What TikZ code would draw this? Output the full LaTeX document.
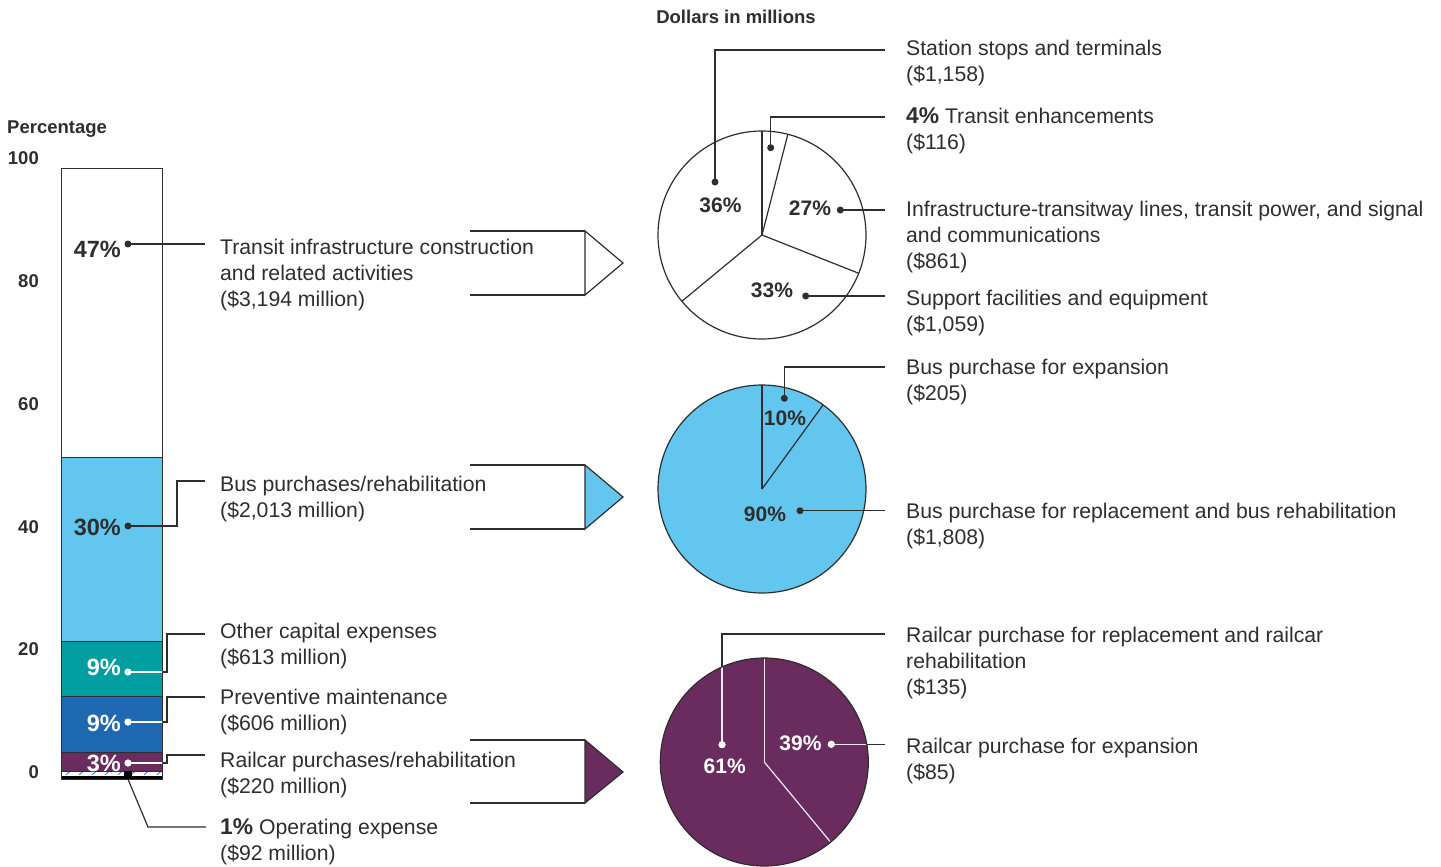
\documentclass[tikz,border=0pt]{standalone}
\usepackage{fontspec}
\setmainfont{Liberation Sans}
\definecolor{ltblue}{HTML}{62C6EE}
\definecolor{tealc}{HTML}{009EA0}
\definecolor{bluec}{HTML}{1F69B2}
\definecolor{purp}{HTML}{6A2C5E}
\definecolor{ink}{HTML}{2E2E2E}
\definecolor{hatchc}{HTML}{3A7BC8}
\newcommand{\mylab}[1]{\begin{tabular}[t]{@{}l@{}}#1\end{tabular}}
\newcommand{\lf}{\fontsize{21.2}{26}\selectfont}
\newcommand{\bigb}[1]{{\fontsize{22.8}{26}\selectfont\bfseries #1}}
\begin{document}
\begin{tikzpicture}[x=1pt,y=-1pt,
  ln/.style={draw=ink, line width=1.2pt},
  lnw/.style={draw=white, line width=1.2pt},
  dotb/.style={circle, fill=ink, inner sep=0pt, minimum size=7pt},
  dotw/.style={circle, fill=white, inner sep=0pt, minimum size=7pt},
  lbl/.style={anchor=base west, inner sep=0pt, font=\lf, text=ink},
  pctbar/.style={anchor=base east, inner sep=0pt, font=\fontsize{23.5}{26}\selectfont\bfseries},
  pctpie/.style={anchor=base, inner sep=0pt, font=\fontsize{21}{26}\selectfont\bfseries},
  axl/.style={anchor=base east, inner sep=0pt, font=\fontsize{18.5}{22}\selectfont\bfseries, text=ink},
  seg/.style={draw=ink, line width=1pt},
  piec/.style={draw=ink, line width=1.2pt},
  chev/.style={draw=ink, line width=1.2pt, line join=miter},
]
\useasboundingbox (0,0) rectangle (1441,867);
\fill[white] (0,0) rectangle (1441,867);

% ---------- titles and axis ----------
\node[anchor=base west, inner sep=0pt, font=\fontsize{18.5}{22}\selectfont\bfseries, text=ink] (ttlp) at (7,133) {Percentage};
\node[anchor=base, inner sep=0pt, font=\fontsize{18.5}{22}\selectfont\bfseries, text=ink] (ttld) at (736,23.5) {Dollars in millions};
\node[axl] (a100) at (39,164.5) {100};
\node[axl] (a80) at (39,287) {80};
\node[axl] (a60) at (39,410) {60};
\node[axl] (a40) at (39,533) {40};
\node[axl] (a20) at (39,655.5) {20};
\node[axl] (a0) at (39,778) {0};

% ---------- stacked bar ----------
\fill[white] (61,168) rectangle (162,457);
\fill[ltblue] (61,457) rectangle (162,641.5);
\fill[tealc] (61,641.5) rectangle (162,696.5);
\fill[bluec] (61,696.5) rectangle (162,752);
\fill[purp] (61,752) rectangle (162,771);
\fill[white] (61,771) rectangle (162,775.5);
\foreach \hx in {66,79,92,105,118,131,144,157} {
  \draw[hatchc, line width=0.8pt] (\hx,774.8) -- ++(3.5,-3);
}
\fill[black] (61,775.5) rectangle (162,779);
\draw[seg] (61,457) -- (162,457);
\draw[seg] (61,641.5) -- (162,641.5);
\draw[seg] (61,696.5) -- (162,696.5);
\draw[seg] (61,752) -- (162,752);
\draw[seg] (61,771) -- (162,771);
\draw[seg] (61,168) rectangle (162,779);

% bar percentages
\node[pctbar, text=ink] (p47) at (121,257) {47\%};
\node[pctbar, text=ink] (p30) at (121,535) {30\%};
\node[pctbar, text=white] (p9a) at (121,675) {9\%};
\node[pctbar, text=white] (p9b) at (121,731) {9\%};
\node[pctbar, text=white] (p3) at (121,771.5) {3\%};

% bar dots
\node[dotb] (d47) at (128,244) {};
\node[dotb] (d30) at (128,526) {};
\node[dotw] (d9a) at (128,672) {};
\node[dotw] (d9b) at (128,722) {};
\node[dotw] (d3) at (128,763) {};
\node[fill=black, inner sep=0pt, minimum width=8pt, minimum height=8pt] (d1) at (128,775) {};

% bar leader ends
\coordinate (e47) at (205,244);
\coordinate (c30) at (177,481);  \coordinate (e30) at (205,481);
\coordinate (c9a) at (167,634);  \coordinate (e9a) at (205,634);
\coordinate (c9b) at (167,697);  \coordinate (e9b) at (205,697);
\coordinate (c3) at (167,755);   \coordinate (e3) at (205,755);
\coordinate (k1) at (148,827);   \coordinate (e1) at (206,827);

\draw[ln] (d47.center) -- (e47);
\draw[ln] (d30.center) -| (c30) -- (e30);
\draw[ln] (d9a.center) -| (c9a) -- (e9a);
\draw[ln] (d9b.center) -| (c9b) -- (e9b);
\draw[ln] (d3.center) -| (c3) -- (e3);
\draw[ln] (d1.south) -- (k1) -- (e1);
\begin{scope}
  \clip (61,641.5) rectangle (162,771);
  \draw[lnw] (d9a.center) -| (c9a) -- (e9a);
  \draw[lnw] (d9b.center) -| (c9b) -- (e9b);
  \draw[lnw] (d3.center) -| (c3) -- (e3);
\end{scope}
\node[dotw] at (d9a) {};
\node[dotw] at (d9b) {};
\node[dotw] at (d3) {};

% bar labels
\node[lbl] (l47) at (220,254) {\mylab{Transit infrastructure construction\\and related activities\\(\$3,194 million)}};
\node[lbl] (l30) at (220,491) {\mylab{Bus purchases/rehabilitation\\(\$2,013 million)}};
\node[lbl] (l9a) at (220,638) {\mylab{Other capital expenses\\(\$613 million)}};
\node[lbl] (l9b) at (220,704) {\mylab{Preventive maintenance\\(\$606 million)}};
\node[lbl] (l3) at (220,767) {\mylab{Railcar purchases/rehabilitation\\(\$220 million)}};
\node[lbl] (l1) at (220,834) {\mylab{\bigb{1\%} Operating expense\\(\$92 million)}};

% ---------- chevrons ----------
\draw[ln] (470,231) -- (585,231);
\draw[ln] (470,295) -- (585,295);
\draw[chev, fill=white] (585,231) -- (623,263) -- (585,295) -- cycle;
\draw[ln] (470,465) -- (585,465);
\draw[ln] (470,529) -- (585,529);
\draw[chev, fill=ltblue] (585,465) -- (623,497) -- (585,529) -- cycle;
\draw[ln] (470,740) -- (585,740);
\draw[ln] (470,803) -- (585,803);
\draw[chev, fill=purp] (585,740) -- (623,772) -- (585,803) -- cycle;

% ---------- pie 1 ----------
\coordinate (pc1) at (762,235);
\draw[piec, fill=white] (pc1) circle[radius=104];
\draw[piec] (pc1) -- ++(-90:104);
\draw[piec] (pc1) -- ++(-75.6:104);
\draw[piec] (pc1) -- ++(21.6:104);
\draw[piec] (pc1) -- ++(140.4:104);
\node[pctpie, text=ink] (q36) at (720.5,212) {36\%};
\node[pctpie, text=ink] (q27) at (810,215) {27\%};
\node[pctpie, text=ink] (q33) at (772,297.3) {33\%};
\node[dotb] (f36) at (715,182) {};
\node[dotb] (f4) at (770.7,147.7) {};
\node[dotb] (f27) at (840.3,210) {};
\node[dotb] (f33) at (805.7,296) {};
\coordinate (g36) at (715,50);  \coordinate (h36) at (885,50);
\coordinate (g4) at (770.7,117); \coordinate (h4) at (885,117);
\coordinate (h27) at (885,210);
\coordinate (h33) at (885,296);
\draw[ln] (f36.center) -- (g36) -- (h36);
\draw[ln] (f4.center) -- (g4) -- (h4);
\draw[ln] (f27.center) -- (h27);
\draw[ln] (f33.center) -- (h33);
\node[lbl] (m36) at (906,56) {\mylab{Station stops and terminals\\(\$1,158)}};
\node[lbl] (m4) at (906,123) {\mylab{\bigb{4\%} Transit enhancements\\(\$116)}};
\node[lbl] (m27) at (906,216) {\mylab{Infrastructure-transitway lines, transit power, and signal\\and communications\\(\$861)}};
\node[lbl] (m33) at (906,305) {\mylab{Support facilities and equipment\\(\$1,059)}};

% ---------- pie 2 ----------
\coordinate (pc2) at (762,489);
\draw[piec, fill=ltblue] (pc2) circle[radius=104];
\draw[piec] (pc2) -- ++(-90:104);
\draw[piec] (pc2) -- ++(-54:104);
\node[pctpie, text=ink] (q10) at (785,425.7) {10\%};
\node[pctpie, text=ink] (q90) at (765,521.7) {90\%};
\node[dotb] (f10) at (784.3,398.3) {};
\node[dotb] (f90) at (800,510.7) {};
\coordinate (g10) at (784.3,367); \coordinate (h10) at (885,367);
\coordinate (h90) at (885,510.7);
\draw[ln] (f10.center) -- (g10) -- (h10);
\draw[ln] (f90.center) -- (h90);
\node[lbl] (m10) at (906,374) {\mylab{Bus purchase for expansion\\(\$205)}};
\node[lbl] (m90) at (906,518) {\mylab{Bus purchase for replacement and bus rehabilitation\\(\$1,808)}};

% ---------- pie 3 ----------
\coordinate (pc3) at (764.3,762);
\draw[piec, fill=purp] (pc3) circle[radius=104];
\draw[lnw, draw=white!85!gray] (pc3) -- ++(-90:103);
\draw[lnw, draw=white!85!gray] (pc3) -- ++(50.4:103);
\node[dotw] (f61) at (722,744.7) {};
\node[dotw] (f39) at (831.3,744.3) {};
\coordinate (g61) at (722,634); \coordinate (h61) at (885,634);
\coordinate (h39) at (885,744.3);
\draw[ln] (f61.center) -- (g61) -- (h61);
\draw[ln] (f39.center) -- (h39);
\begin{scope}
  \clip (pc3) circle[radius=103.4];
  \draw[lnw, draw=white!85!gray] (f61.center) -- (g61) -- (h61);
  \draw[lnw, draw=white!85!gray] (f39.center) -- (h39);
\end{scope}
\node[dotw] at (f61) {};
\node[dotw] at (f39) {};
\node[pctpie, text=white] (q61) at (724.7,773.3) {61\%};
\node[pctpie, text=white] (q39) at (800.5,750) {39\%};
\node[lbl] (m61) at (906,642) {\mylab{Railcar purchase for replacement and railcar\\rehabilitation\\(\$135)}};
\node[lbl] (m39) at (906,753) {\mylab{Railcar purchase for expansion\\(\$85)}};
\end{tikzpicture}
\end{document}
